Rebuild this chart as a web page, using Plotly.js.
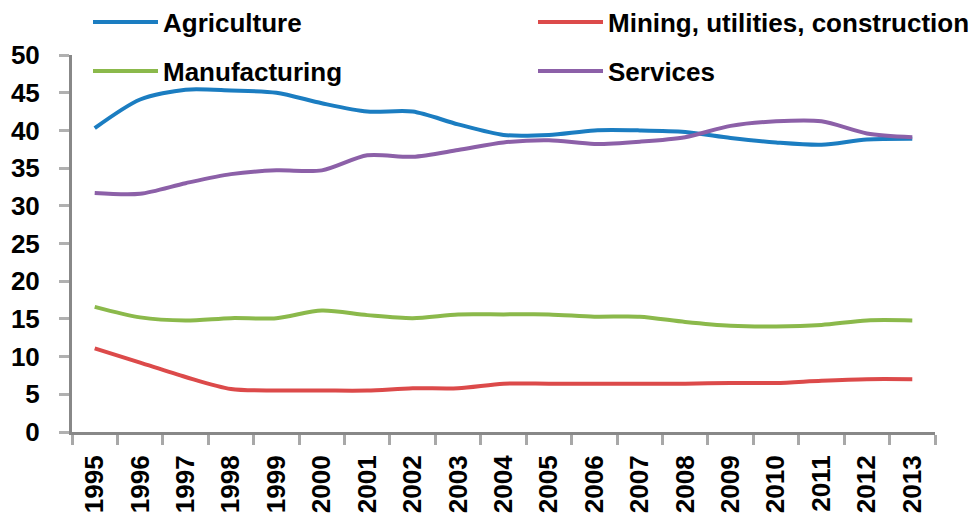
<!DOCTYPE html>
<html>
<head>
<meta charset="utf-8">
<script src="https://cdn.plot.ly/plotly-3.0.1.min.js"></script>
<style>html,body{margin:0;padding:0;background:#fff;}#chart{width:970px;height:515px;}</style>
</head>
<body>
<div id="chart"></div>
<script>
var years = ['1995','1996','1997','1998','1999','2000','2001','2002','2003','2004','2005','2006','2007','2008','2009','2010','2011','2012','2013'];
var seriesNames = ['Agriculture','Mining, utilities, construction','Manufacturing','Services'];
var agriculture = [40.3,44.1,45.4,45.3,45.0,43.6,42.5,42.5,40.8,39.4,39.4,40.0,40.0,39.8,39.0,38.4,38.1,38.8,38.9];
var mining = [11.1,9.2,7.3,5.7,5.5,5.5,5.5,5.8,5.8,6.4,6.4,6.4,6.4,6.4,6.5,6.5,6.8,7.0,7.0];
var manufacturing = [16.6,15.2,14.8,15.1,15.1,16.1,15.5,15.1,15.6,15.6,15.6,15.3,15.3,14.6,14.1,14.0,14.2,14.8,14.8];
var services = [31.7,31.6,33.0,34.2,34.7,34.7,36.7,36.5,37.4,38.4,38.7,38.2,38.5,39.1,40.6,41.2,41.2,39.6,39.1];
var yTicks = [0,5,10,15,20,25,30,35,40,45,50];

var colors = ['#1b7dc1','#dc4a4a','#8bb94b','#8c60a8'];
var values = [agriculture, mining, manufacturing, services];

var W = 970, H = 515, L = 72, R = 35, T = 55, B = 83;
function px(x){ return (x - L) / (W - L - R); }
function py(y){ return (H - B - y) / (H - T - B); }

var font = {family: 'Liberation Sans, Arial, sans-serif', size: 26, color: '#000', weight: 'bold'};

var traces = values.map(function(v, i){
  return {
    x: years, y: v, type: 'scatter', mode: 'lines', name: seriesNames[i],
    line: {color: colors[i], width: 4, shape: 'spline', smoothing: 0.8},
    showlegend: false, hoverinfo: 'skip'
  };
});

// legend positions (pixel): [lineStart, lineEnd, textStart, yCenter]
var legendPos = [[93,158,161,22],[538,603,606,22],[93,158,161,71],[538,603,606,71]];
var shapes = [], annotations = [];
legendPos.forEach(function(p, i){
  shapes.push({type:'line', xref:'paper', yref:'paper', x0:px(p[0]), x1:px(p[1]), y0:py(p[3]), y1:py(p[3]),
    line:{color:colors[i], width:4}});
  annotations.push({xref:'paper', yref:'paper', x:px(p[2]), y:py(p[3]+1), xanchor:'left', yanchor:'middle',
    text: seriesNames[i], showarrow:false, font: font});
});

var layout = {
  width: W, height: H,
  margin: {l: L, r: R, t: T, b: B, pad: 0},
  paper_bgcolor: '#fff', plot_bgcolor: '#fff',
  showlegend: false,
  font: font,
  xaxis: {
    type: 'category', tickson: 'boundaries', ticks: 'outside', ticklen: 10, tickwidth: 3, tickcolor: '#a8a8a8',
    showline: true, linecolor: '#888', linewidth: 3, showgrid: false, zeroline: false,
    tickangle: -90, tickfont: font, ticklabelstandoff: 10, range: [-0.5, 18.5], fixedrange: true
  },
  yaxis: {
    range: [0, 50], tickvals: yTicks, ticktext: yTicks.map(String), ticks: 'outside', ticklen: 10, tickwidth: 3, tickcolor: '#b0b0b0',
    showline: true, linecolor: '#888', linewidth: 3, showgrid: false, zeroline: false,
    tickfont: font, ticklabelstandoff: 14, fixedrange: true
  },
  shapes: shapes,
  annotations: annotations
};

Plotly.newPlot('chart', traces, layout, {staticPlot: true, displayModeBar: false});
</script>
</body>
</html>
